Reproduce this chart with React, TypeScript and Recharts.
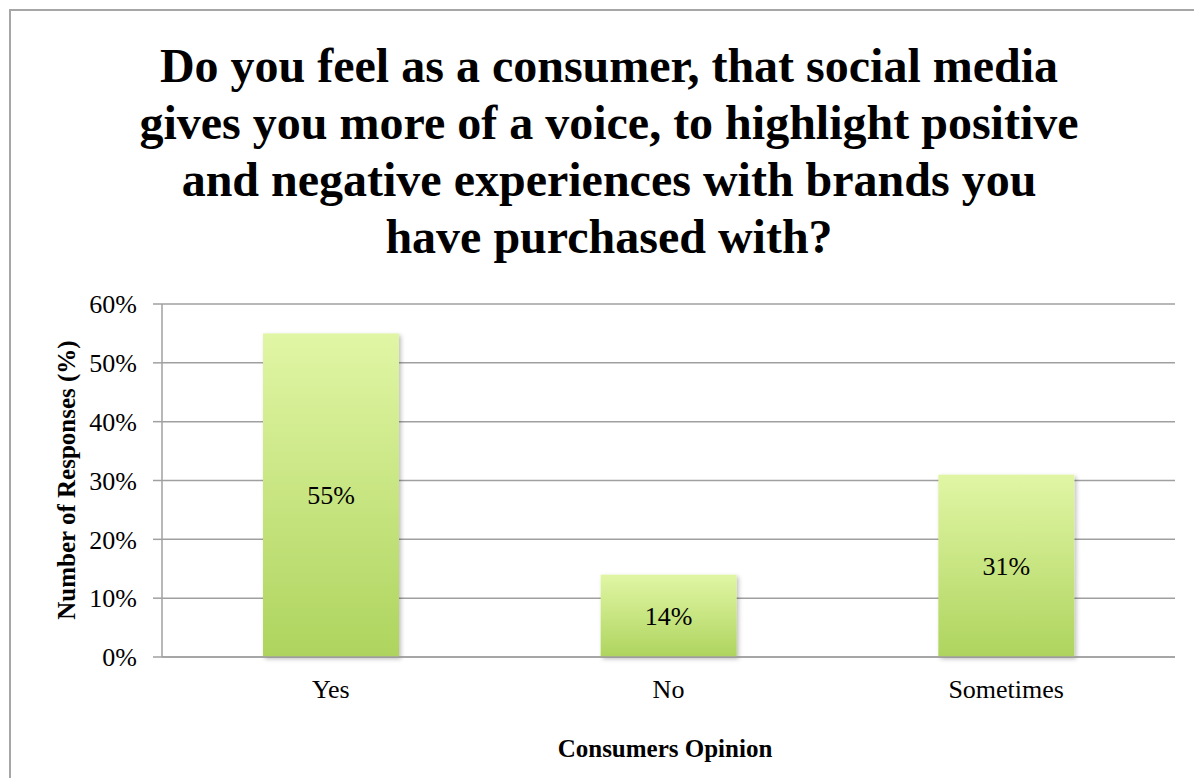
import React from "react";
import { BarChart, Bar, XAxis, YAxis, CartesianGrid, LabelList } from "recharts";

const categories = ["Yes", "No", "Sometimes"];
const responses = [55, 14, 31];
const yTicks = [0, 10, 20, 30, 40, 50, 60];
const titleLines = [
  "Do you feel as a consumer, that social media",
  "gives you more of a voice, to highlight positive",
  "and negative experiences with brands you",
  "have purchased with?",
];
const xTitle = "Consumers Opinion";
const yTitle = "Number of Responses (%)";

const data = categories.map((c, i) => ({ name: c, value: responses[i] }));

const FONT = "'Liberation Serif', 'Times New Roman', Times, serif";
const GRID = "#a0a0a0";

const BarShape = (props: any) => {
  const { x, y, width, height } = props;
  if (!height || height <= 0) return null;
  return (
    <rect
      x={x}
      y={y}
      width={width}
      height={height}
      fill="url(#barGrad)"
      filter="url(#barShadow)"
    />
  );
};

export default function App() {
  return (
    <div style={{ position: "relative", width: 1194, height: 770, overflow: "hidden", background: "#fff" }}>
      <svg width={0} height={0} style={{ position: "absolute" }}>
        <defs>
          <linearGradient id="barGrad" x1="0" y1="0" x2="0" y2="1">
            <stop offset="0%" stopColor="#e1f6a5" />
            <stop offset="100%" stopColor="#aed45e" />
          </linearGradient>
          <filter id="barShadow" x="-10%" y="-10%" width="125%" height="125%">
            <feDropShadow dx="2" dy="2" stdDeviation="2" floodColor="#000" floodOpacity="0.25" />
          </filter>
        </defs>
      </svg>
      <div
        style={{
          position: "absolute",
          left: 1,
          top: 1,
          width: 1400,
          height: 1000,
          border: "2px solid #a6a6a6",
          boxSizing: "border-box",
        }}
      />
      <div style={{ position: "absolute", left: 0, top: 0 }}>
        <BarChart
          width={1194}
          height={770}
          data={data}
          margin={{ top: 296, right: 27, left: 74, bottom: 61 }}
        >
          <CartesianGrid vertical={false} stroke={GRID} strokeWidth={1.5} />
          <XAxis
            dataKey="name"
            height={60}
            axisLine={{ stroke: GRID, strokeWidth: 1.5 }}
            tickLine={false}
            tickSize={0}
            tickMargin={23}
            tick={{ fill: "#000", fontSize: 26, fontFamily: FONT }}
          />
          <YAxis
            width={80}
            domain={[0, 60]}
            ticks={yTicks}
            interval={0}
            tickFormatter={(v: number) => `${v}%`}
            axisLine={{ stroke: GRID, strokeWidth: 1.5 }}
            tickLine={{ stroke: GRID, strokeWidth: 1.5 }}
            tickSize={9}
            tickMargin={16}
            tick={{ fill: "#000", fontSize: 26, fontFamily: FONT }}
          />
          <Bar dataKey="value" barSize={136} isAnimationActive={false} shape={BarShape}>
            <LabelList
              dataKey="value"
              position="center"
              formatter={(v: any) => `${v}%`}
              style={{ fill: "#000", fontSize: 26, fontFamily: FONT }}
            />
          </Bar>
        </BarChart>
      </div>
      <svg
        width={1194}
        height={770}
        style={{ position: "absolute", left: 0, top: 0, pointerEvents: "none" }}
      >
        {titleLines.map((t, i) => (
          <text
            key={i}
            x={601}
            y={74 + i * 57}
            textAnchor="middle"
            fontFamily={FONT}
            fontWeight="bold"
            fontSize={48}
            fill="#000"
          >
            {t}
          </text>
        ))}
        <text x={657} y={749} textAnchor="middle" fontFamily={FONT} fontWeight="bold" fontSize={25} fill="#000">
          {xTitle}
        </text>
        <text
          x={67}
          y={472}
          textAnchor="middle"
          fontFamily={FONT}
          fontWeight="bold"
          fontSize={25}
          fill="#000"
          transform="rotate(-90, 67, 472)"
        >
          {yTitle}
        </text>
      </svg>
    </div>
  );
}
